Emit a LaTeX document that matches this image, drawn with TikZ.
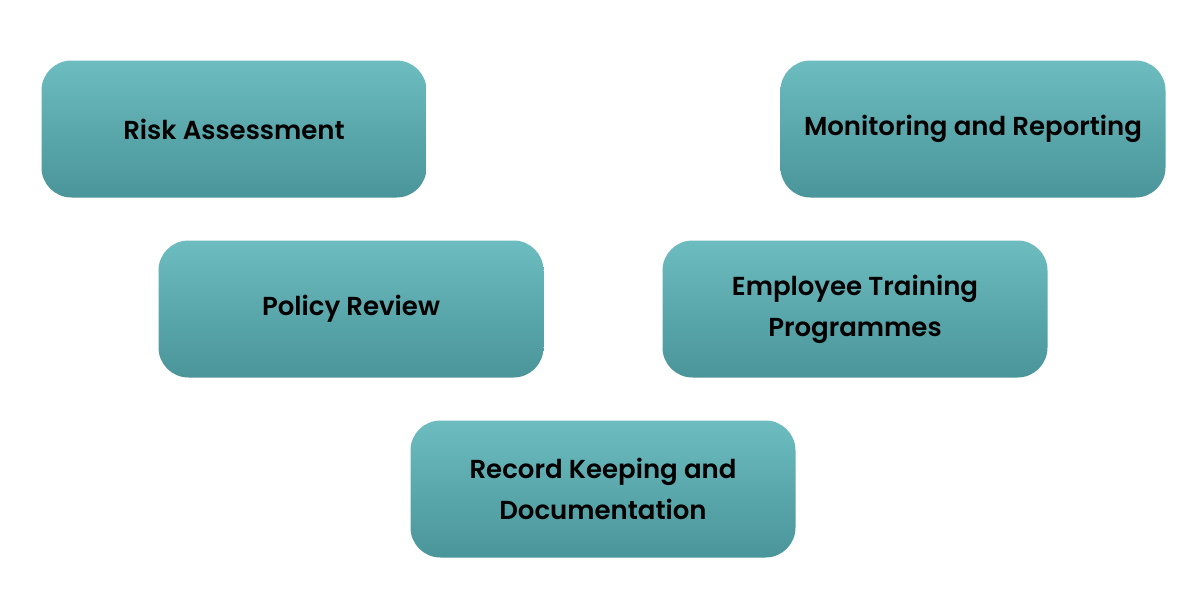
\documentclass[tikz,border=0pt]{standalone}
\usepackage{fontspec}
\setmainfont{Poppins}[BoldFont={* SemiBold}]
\definecolor{tealtop}{HTML}{6CBCC0}
\definecolor{tealbot}{HTML}{4A9599}
\begin{document}
\begin{tikzpicture}[x=1pt,y=-1pt,
  box/.style={rounded corners=30pt, minimum width=385pt, minimum height=137pt,
    top color=tealtop, bottom color=tealbot, inner sep=0pt, align=center,
    font=\bfseries\fontsize{26}{41}\selectfont, text=black}]
\useasboundingbox[fill=white] (0,0) rectangle (1200,600);
\node[box] (risk) at (234,129) {Risk Assessment};
\node[box] (mon) at (973,129) {Monitoring and Reporting};
\node[box] (pol) at (351,309) {Policy Review};
\node[box] (emp) at (855,309) {Employee Training\\Programmes};
\node[box] (rec) at (603,489) {Record Keeping and\\Documentation};
\end{tikzpicture}
\end{document}
